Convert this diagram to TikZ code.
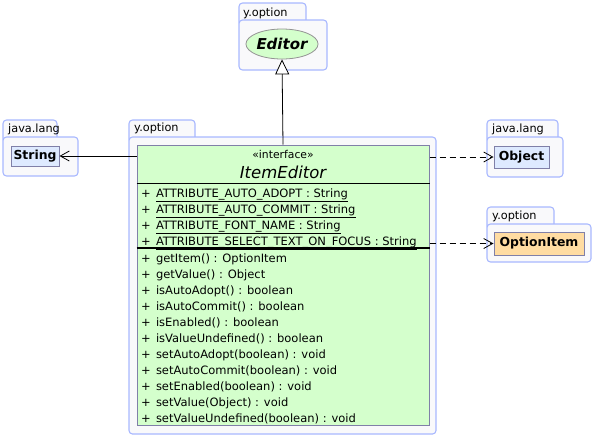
\documentclass[tikz,border=0pt]{standalone}
\usepackage{fontspec}
\setmainfont{DejaVu Sans}
\usepackage{xcolor}
\usetikzlibrary{arrows.meta,shapes.geometric}
\definecolor{pkgedge}{RGB}{168,184,255}
\definecolor{pkgfill}{RGB}{249,249,251}
\definecolor{clsedge}{RGB}{128,128,168}
\definecolor{ifcfill}{RGB}{212,255,204}
\definecolor{reffill}{RGB}{222,234,255}
\definecolor{optfill}{RGB}{255,220,162}

\begin{document}
\begin{tikzpicture}[x=1pt,y=-1pt,
  pkgbox/.style={draw=pkgedge,fill=pkgfill,line width=1.1pt,rounded corners=3.5pt},
  pkglabel/.style={anchor=base west,inner sep=0pt,font=\fontsize{11.3}{12}\selectfont},
  refbox/.style={draw=clsedge,line width=1pt,inner sep=0pt,font=\bfseries\fontsize{12.4}{13}\selectfont},
  member/.style={anchor=base west,inner sep=0pt,font=\fontsize{11.5}{13}\selectfont},
  dep/.style={dash pattern=on 6pt off 4pt,-{Straight Barb[length=9pt,width=10pt]}},
  assoc/.style={-{Straight Barb[length=9pt,width=10pt]}},
  realize/.style={-{Triangle[open,length=15pt,width=14pt,fill=white]}}]
\useasboundingbox (0,0) rectangle (594,437);

\draw[pkgbox] (239,3) rectangle (306,26);
\draw[pkgbox] (239,20) rectangle (327,70);
\node[pkglabel] (pkgedt) at (243,16) {y.option};
\node[ellipse,draw=gray!85,fill=ifcfill,line width=0.8pt,minimum width=72pt,minimum height=30pt,inner sep=0pt,
  font=\bfseries\itshape\fontsize{15}{16}\selectfont] (edt) at (282,44) {Editor};

\draw[pkgbox] (3,120) rectangle (57,143);
\draw[pkgbox] (3,137) rectangle (78,176);
\node[pkglabel] (pkgstr) at (8,132) {java.lang};
\node[refbox,fill=reffill,minimum width=48pt,minimum height=20pt] (str) at (35,156) {String};

\draw[pkgbox] (487,120) rectangle (558,143);
\draw[pkgbox] (487,137) rectangle (563,177);
\node[pkglabel] (pkgobj) at (492,132) {java.lang};
\node[refbox,fill=reffill,minimum width=55pt,minimum height=22pt] (obj) at (521.5,157) {Object};

\draw[pkgbox] (487,207) rectangle (554,230);
\draw[pkgbox] (487,224) rectangle (591,262);
\node[pkglabel] (pkgopt) at (492,219) {y.option};
\node[refbox,fill=optfill,minimum width=90pt,minimum height=23pt] (opt) at (539,243.5) {OptionItem};

\draw[pkgbox] (129,120) rectangle (195,143);
\draw[pkgbox] (129,137) rectangle (436,434);
\node[pkglabel] (pkgcls) at (134,131) {y.option};
\node[draw=clsedge,fill=ifcfill,line width=1pt,minimum width=292pt,minimum height=280pt,inner sep=0pt] (cls) at (283,285) {};
\node[anchor=base,inner sep=0pt,font=\fontsize{10.8}{12}\selectfont] (stereo) at (283,158) {«interface»};
\node[anchor=base,inner sep=0pt,font=\itshape\fontsize{16.5}{18}\selectfont] (clsname) at (283,178) {ItemEditor};
\draw[line width=1pt] (cls.west |- 0,183) -- (cls.east |- 0,183);
\draw[line width=2.2pt] (cls.west |- 0,248) -- (cls.east |- 0,248);

\foreach \a [count=\k from 0] in {AUTO\_ADOPT,AUTO\_COMMIT,FONT\_NAME,SELECT\_TEXT\_ON\_FOCUS}
  \node[member] (att\k) at (141,{197+16*\k}) {+\hspace{0.45em}\underline{ATTRIBUTE\_\a{} : String}};

\foreach \m [count=\k from 0] in {getItem() : OptionItem,getValue() : Object,isAutoAdopt() : boolean,
  isAutoCommit() : boolean,isEnabled() : boolean,isValueUndefined() : boolean,
  setAutoAdopt(boolean) : void,setAutoCommit(boolean) : void,setEnabled(boolean) : void,
  setValue(Object) : void,setValueUndefined(boolean) : void}
  \node[member] (op\k) at (141,{262+16*\k}) {+\hspace{0.45em}\m};

\draw[realize,line width=0.8pt] (cls.north) -- (edt.south);
\draw[assoc,line width=0.8pt] (str -| cls.west) -- (str.east);
\draw[dep,line width=0.8pt] (obj -| cls.east) -- (obj.west);
\draw[dep,line width=0.8pt] (opt -| cls.east) -- (opt.west);
\end{tikzpicture}
\end{document}
